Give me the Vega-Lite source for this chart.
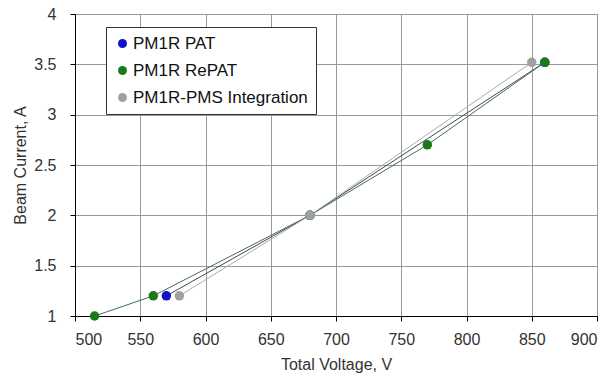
{
  "$schema": "https://vega.github.io/schema/vega-lite/v6.json",
  "width": 522,
  "height": 302,
  "autosize": {"type": "none"},
  "padding": {"left": 75, "top": 14, "right": 14, "bottom": 67},
  "background": "white",
  "config": {
    "font": "Liberation Sans",
    "view": {"stroke": "#888888", "strokeWidth": 1},
    "axis": {
      "labelFont": "Liberation Sans",
      "titleFont": "Liberation Sans",
      "labelFontSize": 16,
      "titleFontSize": 16,
      "titleFontWeight": "normal",
      "labelColor": "#333333",
      "titleColor": "#333333",
      "gridColor": "#999999",
      "gridOpacity": 1,
      "domainColor": "#000000",
      "tickColor": "#000000",
      "tickSize": 5
    }
  },
  "data": {
    "values": [
      {"series": "PM1R PAT", "voltage": 570, "current": 1.2, "ord": 1},
      {"series": "PM1R PAT", "voltage": 680, "current": 2.0, "ord": 1},
      {"series": "PM1R PAT", "voltage": 860, "current": 3.52, "ord": 1},
      {"series": "PM1R RePAT", "voltage": 515, "current": 1.0, "ord": 2},
      {"series": "PM1R RePAT", "voltage": 560, "current": 1.2, "ord": 2},
      {"series": "PM1R RePAT", "voltage": 680, "current": 2.0, "ord": 2},
      {"series": "PM1R RePAT", "voltage": 770, "current": 2.7, "ord": 2},
      {"series": "PM1R RePAT", "voltage": 860, "current": 3.52, "ord": 2},
      {"series": "PM1R-PMS Integration", "voltage": 580, "current": 1.2, "ord": 3},
      {"series": "PM1R-PMS Integration", "voltage": 680, "current": 2.0, "ord": 3},
      {"series": "PM1R-PMS Integration", "voltage": 850, "current": 3.52, "ord": 3}
    ]
  },
  "encoding": {
    "x": {
      "field": "voltage", "type": "quantitative",
      "scale": {"domain": [500, 900], "nice": false, "zero": false},
      "axis": {"values": [500, 550, 600, 650, 700, 750, 800, 850, 900], "format": "d", "title": "Total Voltage, V", "titlePadding": 9, "labelPadding": 10}
    },
    "y": {
      "field": "current", "type": "quantitative",
      "scale": {"domain": [1, 4], "nice": false, "zero": false},
      "axis": {"values": [1, 1.5, 2, 2.5, 3, 3.5, 4], "format": "~g", "title": "Beam Current, A", "titlePadding": 5, "labelPadding": 14}
    }
  },
  "layer": [
    {
      "mark": {"type": "line", "strokeWidth": 1},
      "encoding": {
        "detail": {"field": "series"},
        "stroke": {
          "field": "series", "type": "nominal",
          "scale": {"domain": ["PM1R PAT", "PM1R RePAT", "PM1R-PMS Integration"], "range": ["#444455", "#3f6f4f", "#aaaaaa"]},
          "legend": null
        }
      }
    },
    {
      "mark": {"type": "point", "filled": true, "opacity": 1, "size": 90},
      "encoding": {
        "order": {"field": "ord"},
        "fill": {
          "field": "series", "type": "nominal",
          "scale": {"domain": ["PM1R PAT", "PM1R RePAT", "PM1R-PMS Integration"], "range": ["#1010cc", "#1a7a1a", "#a0a0a0"]},
          "legend": {
            "title": null,
            "orient": "none",
            "legendX": 31,
            "legendY": 13,
            "symbolType": "circle",
            "symbolSize": 80,
            "symbolStrokeWidth": 0,
            "labelFontSize": 17,
            "labelColor": "#111111",
            "labelFont": "Liberation Sans",
            "rowPadding": 9,
            "padding": 8,
            "labelOffset": 2,
            "strokeColor": "#333333",
            "fillColor": "white",
            "labelLimit": 300
          }
        }
      }
    }
  ],
  "resolve": {
    "scale": {"fill": "independent", "stroke": "independent"},
    "legend": {"fill": "independent", "stroke": "independent"}
  }
}
